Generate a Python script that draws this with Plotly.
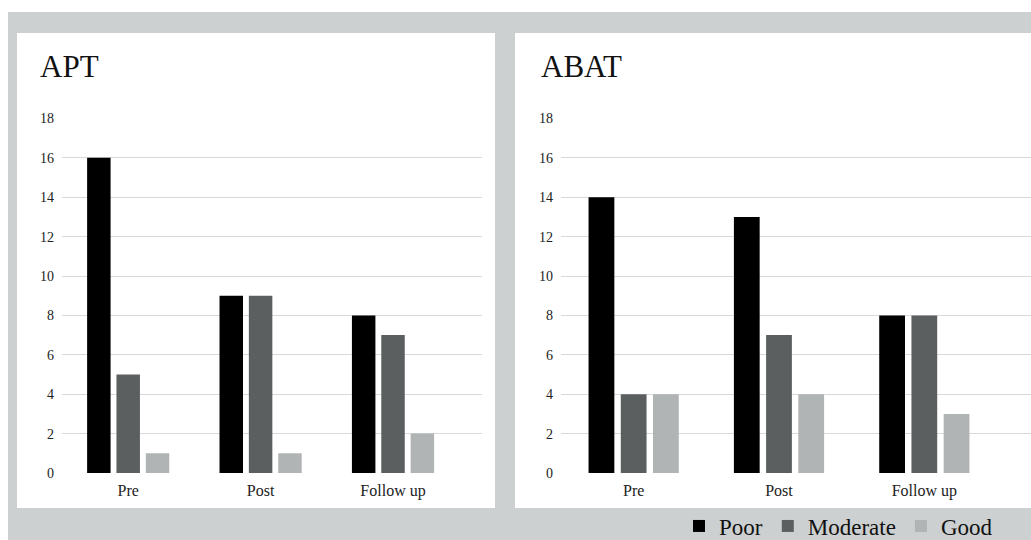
import plotly.graph_objects as go

categories = ["Pre", "Post", "Follow up"]
series_names = ["Poor", "Moderate", "Good"]
apt_poor = [16, 9, 8]
apt_moderate = [5, 9, 7]
apt_good = [1, 1, 2]
abat_poor = [14, 13, 8]
abat_moderate = [4, 7, 8]
abat_good = [4, 4, 3]
panel_titles = ["APT", "ABAT"]
y_ticks = [0, 2, 4, 6, 8, 10, 12, 14, 16, 18]

colors = ["#000000", "#5b5f5f", "#b1b4b4"]
FONT = "Liberation Serif, Times New Roman, serif"

W, H = 1031, 540
fig = go.Figure()

apt = [apt_poor, apt_moderate, apt_good]
abat = [abat_poor, abat_moderate, abat_good]
for i, name in enumerate(series_names):
    fig.add_trace(go.Bar(x=categories, y=apt[i], name=name, marker_color=colors[i],
                         marker_line_width=0, xaxis="x", yaxis="y", showlegend=True,
                         legendgroup=name))
    fig.add_trace(go.Bar(x=categories, y=abat[i], name=name, marker_color=colors[i],
                         marker_line_width=0, xaxis="x2", yaxis="y2", showlegend=False,
                         legendgroup=name))

def px(x):
    return x / W

def py(y):
    return 1 - y / H

shapes = [
    dict(type="rect", xref="paper", yref="paper", x0=px(8), x1=1.0, y0=0, y1=py(12),
         fillcolor="#cdd0d0", line_width=0, layer="below"),
    dict(type="rect", xref="paper", yref="paper", x0=px(17), x1=px(495), y0=py(508), y1=py(33),
         fillcolor="#ffffff", line_width=0, layer="below"),
    dict(type="rect", xref="paper", yref="paper", x0=px(515), x1=1.0, y0=py(508), y1=py(33),
         fillcolor="#ffffff", line_width=0, layer="below"),
]

ydom = [py(473), py(118.4)]
axis_common_y = dict(range=[0, 18], tickvals=y_ticks, showgrid=True, gridcolor="#d9d9d9",
                     gridwidth=1, zeroline=False, showline=False, ticks="",
                     ticklabelstandoff=7,
                     tickfont=dict(family=FONT, size=14, color="#222"), fixedrange=True)
axis_common_x = dict(showgrid=False, zeroline=False, showline=False, ticks="",
                     ticklabelstandoff=6,
                     tickfont=dict(family=FONT, size=16, color="#222"), fixedrange=True,
                     type="category")

fig.update_layout(
    width=W, height=H, autosize=False,
    margin=dict(l=0, r=0, t=0, b=0, pad=0, autoexpand=False),
    paper_bgcolor="#ffffff", plot_bgcolor="rgba(0,0,0,0)",
    barmode="group", bargap=0.335, bargroupgap=0.2,
    shapes=shapes,
    xaxis=dict(domain=[px(62), px(482)], range=[-0.5, 2.672], anchor="y", **axis_common_x),
    yaxis=dict(domain=ydom, anchor="x", **axis_common_y),
    xaxis2=dict(domain=[px(561), 1.0], range=[-0.5, 2.734], anchor="y2", **axis_common_x),
    yaxis2=dict(domain=ydom, anchor="x2", **axis_common_y),
    annotations=[
        dict(text=panel_titles[0], xref="paper", yref="paper", x=px(38), y=py(66),
             xanchor="left", yanchor="middle", showarrow=False,
             font=dict(family=FONT, size=31, color="#111")),
        dict(text=panel_titles[1], xref="paper", yref="paper", x=px(539), y=py(66),
             xanchor="left", yanchor="middle", showarrow=False,
             font=dict(family=FONT, size=31, color="#111")),
    ],
    legend=dict(orientation="h", x=px(998), xanchor="right", y=py(526), yanchor="middle",
                font=dict(family=FONT, size=23, color="#111"), bgcolor="rgba(0,0,0,0)",
                traceorder="normal", itemwidth=30),
    showlegend=True,
)

fig.write_html("out.html", config={"displayModeBar": False},
               post_script="document.body.style.margin='0';document.body.style.overflow='hidden';")
